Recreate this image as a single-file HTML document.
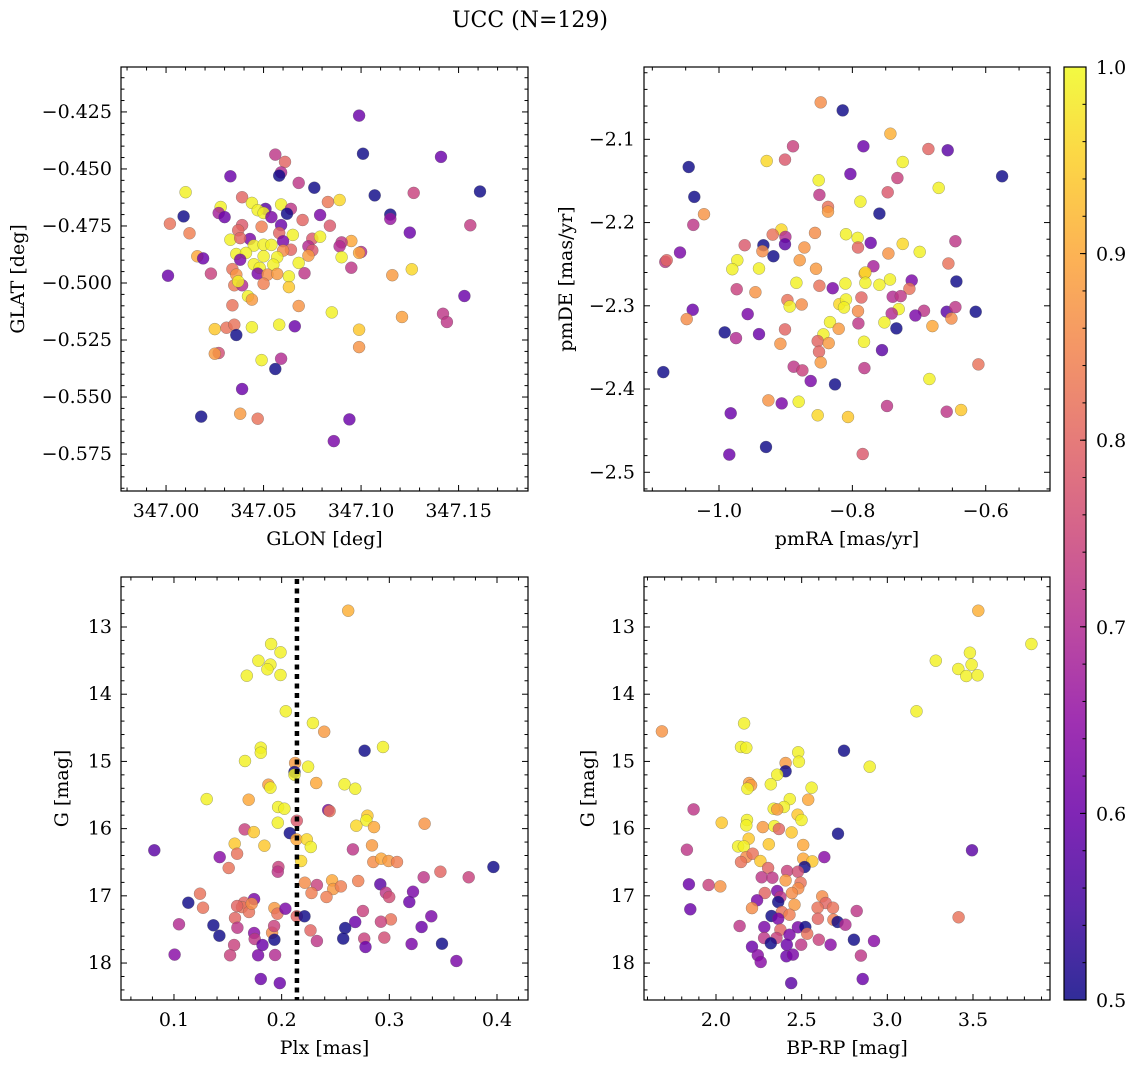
<!DOCTYPE html>
<html><head><meta charset="utf-8"><title>UCC (N=129)</title>
<style>
html,body{margin:0;padding:0;background:#fff;}
svg{display:block;font-family:"DejaVu Serif","Liberation Serif",serif;}
</style></head>
<body>
<svg id="fig" width="1136" height="1067" viewBox="0 0 1136 1067" xmlns="http://www.w3.org/2000/svg">
<defs>
<linearGradient id="plasmaGrad" x1="0" y1="1" x2="0" y2="0">
<stop offset="0" stop-color="#0d0887"/><stop offset="0.1" stop-color="#41049d"/><stop offset="0.2" stop-color="#6a00a8"/><stop offset="0.3" stop-color="#8f0da4"/><stop offset="0.4" stop-color="#b12a90"/><stop offset="0.5" stop-color="#cc4778"/><stop offset="0.6" stop-color="#e16462"/><stop offset="0.7" stop-color="#f2844b"/><stop offset="0.8" stop-color="#fca636"/><stop offset="0.9" stop-color="#fcce25"/><stop offset="1" stop-color="#f0f921"/>
</linearGradient>
</defs>
<text x="530" y="27" font-size="22" text-anchor="middle">UCC (N=129)</text>
</svg>
<script>
// ---------- Panel 1: GLON / GLAT ----------
const p1_glon=[347.099,347.101,347.141,347.056,347.061,347.033,347.059,347.058,347.068,347.076,347.010,347.107,347.127,347.161,347.039,347.044,347.089,347.083,347.059,347.028,347.051,347.064,347.009,347.027,347.030,347.047,347.050,347.054,347.062,347.079,347.115,347.115,347.002,347.070,347.084,347.156,347.039,347.059,347.049,347.012,347.037,347.058,347.125,347.065,347.033,347.043,347.038,347.075,347.079,347.060,347.095,347.090,347.089,347.045,347.050,347.054,347.073,347.075,347.064,347.060,347.100,347.099,347.016,347.019,347.036,347.041,347.038,347.050,347.057,347.073,347.090,347.068,347.045,347.048,347.055,347.095,347.126,347.001,347.023,347.034,347.036,347.047,347.052,347.057,347.063,347.071,347.116,347.035,347.039,347.037,347.050,347.063,347.153,347.042,347.044,347.034,347.068,347.085,347.121,347.142,347.144,347.025,347.031,347.035,347.044,347.058,347.066,347.099,347.036,347.027,347.025,347.059,347.049,347.056,347.099,347.039,347.018,347.038,347.047,347.094,347.086];
const p1_glat=[-0.4266,-0.4433,-0.4447,-0.4437,-0.4469,-0.4532,-0.4515,-0.4529,-0.4561,-0.4582,-0.4602,-0.4616,-0.4605,-0.4599,-0.4624,-0.4649,-0.4636,-0.4645,-0.4656,-0.4667,-0.4675,-0.4675,-0.4708,-0.4693,-0.4711,-0.4681,-0.4693,-0.4711,-0.4696,-0.4702,-0.4700,-0.4719,-0.4740,-0.4724,-0.4749,-0.4747,-0.4746,-0.4746,-0.4753,-0.4782,-0.4769,-0.4781,-0.4779,-0.4789,-0.4810,-0.4807,-0.4803,-0.4806,-0.4797,-0.4817,-0.4816,-0.4822,-0.4839,-0.4836,-0.4832,-0.4833,-0.4839,-0.4857,-0.4854,-0.4858,-0.4864,-0.4868,-0.4883,-0.4892,-0.4873,-0.4868,-0.4898,-0.4883,-0.4887,-0.4880,-0.4887,-0.4912,-0.4918,-0.4934,-0.4920,-0.4933,-0.4940,-0.4968,-0.4959,-0.4939,-0.4963,-0.4959,-0.4963,-0.4960,-0.4971,-0.4957,-0.4966,-0.5010,-0.5010,-0.4993,-0.5003,-0.5018,-0.5057,-0.5058,-0.5073,-0.5098,-0.5101,-0.5129,-0.5149,-0.5135,-0.5171,-0.5202,-0.5196,-0.5183,-0.5194,-0.5183,-0.5190,-0.5205,-0.5228,-0.5307,-0.5310,-0.5332,-0.5338,-0.5377,-0.5281,-0.5465,-0.5586,-0.5573,-0.5595,-0.5598,-0.5693];
const p1_prob=[0.6,0.5,0.6,0.72,0.8,0.6,0.7,0.5,0.72,0.5,0.99,0.5,0.74,0.5,0.8,0.99,0.96,0.83,0.99,0.99,0.58,0.72,0.5,0.68,0.6,0.99,0.99,0.62,0.5,0.62,0.5,0.66,0.82,0.8,0.78,0.73,0.78,0.6,0.84,0.84,0.8,0.8,0.6,0.99,0.99,0.62,0.8,0.78,0.99,0.62,0.9,0.72,0.7,0.99,0.99,0.99,0.7,0.78,0.8,0.86,0.7,0.9,0.9,0.6,0.99,0.99,0.62,0.99,0.99,0.88,0.99,0.99,0.99,0.99,0.99,0.72,0.96,0.6,0.74,0.82,0.87,0.62,0.86,0.88,0.99,0.72,0.88,0.83,0.7,0.99,0.84,0.94,0.6,0.99,0.88,0.82,0.87,0.99,0.89,0.72,0.72,0.94,0.82,0.82,0.99,0.99,0.6,0.94,0.5,0.76,0.88,0.7,0.99,0.5,0.87,0.6,0.5,0.88,0.82,0.6,0.62];
// ---------- Panel 2: pmRA / pmDE ----------
const p2_pmra=[-0.8475,-0.8145,-0.743,-0.889,-0.7835,-0.686,-0.657,-1.0455,-0.9285,-0.901,-0.7245,-0.5755,-0.803,-0.7325,-0.8505,-0.6705,-0.747,-1.037,-0.8495,-0.788,-0.8365,-0.8365,-0.7595,-1.0225,-1.0385,-0.9065,-0.9195,-0.9005,-0.856,-0.8095,-0.792,-0.7725,-0.7245,-0.6455,-0.9615,-0.9335,-0.935,-0.901,-0.872,-0.7915,-0.746,-0.699,-1.0585,-1.0805,-1.0785,-0.9185,-0.9725,-0.879,-0.656,-0.98,-0.94,-0.8545,-0.7685,-0.7815,-0.7805,-0.644,-0.884,-0.8495,-0.8105,-0.7805,-0.8295,-0.7595,-0.7435,-0.711,-0.9735,-0.9455,-0.7145,-0.7395,-0.7275,-0.7865,-0.8975,-0.894,-0.876,-0.8195,-0.8095,-0.8125,-1.0395,-0.7915,-0.7305,-0.741,-0.6925,-0.6585,-0.6455,-0.615,-0.6515,-0.7055,-1.0485,-0.957,-0.791,-0.8335,-0.752,-0.68,-0.9915,-0.9745,-0.94,-0.901,-0.8435,-0.8205,-0.734,-0.908,-0.852,-0.8355,-0.7825,-0.85,-0.7555,-0.8475,-0.888,-0.875,-0.782,-0.611,-1.0835,-0.8625,-0.826,-0.6845,-0.926,-0.906,-0.8805,-0.9825,-0.852,-0.8065,-0.748,-0.6585,-0.637,-0.9295,-0.9845,-0.7845];
const p2_pmde=[-2.0556,-2.0652,-2.0932,-2.1084,-2.1084,-2.1116,-2.1132,-2.1332,-2.126,-2.1244,-2.1272,-2.1444,-2.1416,-2.1464,-2.1492,-2.1584,-2.1636,-2.1692,-2.1668,-2.1748,-2.1812,-2.1868,-2.1892,-2.19,-2.2028,-2.2084,-2.2144,-2.2172,-2.2124,-2.214,-2.2184,-2.2244,-2.2256,-2.2224,-2.2272,-2.2272,-2.2344,-2.226,-2.23,-2.23,-2.2372,-2.2352,-2.236,-2.2472,-2.2452,-2.2404,-2.2452,-2.2452,-2.2492,-2.256,-2.2552,-2.2556,-2.2524,-2.2612,-2.26,-2.2708,-2.2724,-2.276,-2.2732,-2.2724,-2.2788,-2.2748,-2.2684,-2.2696,-2.28,-2.2836,-2.2796,-2.2892,-2.2884,-2.29,-2.2932,-2.3008,-2.2984,-2.298,-2.2924,-2.302,-2.3048,-2.3064,-2.304,-2.3092,-2.306,-2.3072,-2.3016,-2.3072,-2.3152,-2.3116,-2.316,-2.31,-2.3212,-2.3196,-2.32,-2.3244,-2.332,-2.3388,-2.334,-2.3284,-2.3344,-2.3276,-2.3272,-2.3456,-2.3424,-2.3448,-2.3432,-2.3552,-2.3532,-2.368,-2.3732,-2.3776,-2.3748,-2.3704,-2.3796,-2.3904,-2.3944,-2.388,-2.4136,-2.4172,-2.4152,-2.4292,-2.4316,-2.4336,-2.4204,-2.4272,-2.4252,-2.4696,-2.4788,-2.478];
const p2_prob=[0.86,0.5,0.91,0.74,0.6,0.8,0.58,0.5,0.96,0.78,0.99,0.5,0.6,0.74,0.99,0.99,0.78,0.5,0.72,0.99,0.82,0.88,0.5,0.87,0.72,0.96,0.82,0.7,0.86,0.99,0.99,0.6,0.96,0.72,0.78,0.5,0.86,0.58,0.87,0.8,0.87,0.99,0.62,0.72,0.8,0.5,0.99,0.88,0.82,0.99,0.99,0.88,0.68,0.88,0.96,0.5,0.99,0.82,0.99,0.99,0.62,0.99,0.99,0.62,0.74,0.87,0.82,0.7,0.72,0.8,0.82,0.99,0.86,0.96,0.99,0.99,0.6,0.86,0.99,0.7,0.72,0.58,0.72,0.5,0.86,0.62,0.86,0.62,0.72,0.99,0.99,0.9,0.5,0.7,0.6,0.8,0.99,0.88,0.5,0.87,0.8,0.88,0.99,0.8,0.58,0.88,0.72,0.74,0.72,0.82,0.5,0.62,0.5,0.99,0.87,0.62,0.99,0.6,0.96,0.94,0.72,0.72,0.94,0.5,0.6,0.78];
// ---------- Panel 3: Plx / G ----------
const p3_plx=[0.2618,0.1902,0.1989,0.1784,0.1896,0.1868,0.1676,0.1989,0.2039,0.2290,0.2395,0.2770,0.2941,0.1806,0.1806,0.1660,0.2125,0.2119,0.2119,0.2246,0.1877,0.1896,0.2321,0.2584,0.2683,0.1304,0.1694,0.1967,0.2026,0.2432,0.2445,0.2796,0.2786,0.2693,0.2141,0.1964,0.2858,0.3328,0.1657,0.1741,0.2076,0.2138,0.2234,0.2271,0.1564,0.1840,0.0817,0.1425,0.1586,0.2662,0.2839,0.2181,0.2851,0.2925,0.2993,0.3071,0.1508,0.1970,0.1964,0.3967,0.3319,0.3474,0.3737,0.2215,0.2327,0.2277,0.2469,0.2479,0.2550,0.2417,0.2711,0.2916,0.2968,0.2999,0.3220,0.3186,0.1242,0.1133,0.1270,0.1651,0.1744,0.1632,0.1697,0.1722,0.1933,0.1961,0.2035,0.2141,0.2212,0.2755,0.3015,0.2922,0.3390,0.2683,0.2590,0.1047,0.1366,0.1422,0.1567,0.1589,0.1744,0.1750,0.1911,0.1930,0.1933,0.2268,0.2327,0.2572,0.2767,0.2779,0.2953,0.3207,0.3300,0.3489,0.3623,0.1558,0.1521,0.1822,0.1781,0.1939,0.1006,0.1806,0.1983,0.1586];
const p3_g=[12.757,13.253,13.377,13.501,13.560,13.630,13.724,13.714,14.255,14.429,14.558,14.840,14.786,14.796,14.870,14.994,15.024,15.158,15.197,15.078,15.346,15.391,15.321,15.341,15.406,15.560,15.570,15.679,15.704,15.724,15.739,15.808,15.877,15.957,15.882,15.912,15.977,15.927,16.011,16.051,16.066,16.160,16.160,16.274,16.224,16.254,16.323,16.423,16.373,16.309,16.249,16.482,16.497,16.448,16.482,16.497,16.586,16.571,16.641,16.571,16.725,16.641,16.725,16.804,16.839,16.958,16.770,16.899,16.859,17.018,16.780,16.829,16.953,17.018,16.938,17.092,16.968,17.102,17.177,17.102,17.048,17.167,17.241,17.117,17.182,17.266,17.191,17.305,17.305,17.226,17.350,17.385,17.305,17.390,17.479,17.424,17.439,17.593,17.330,17.474,17.553,17.643,17.548,17.449,17.653,17.514,17.672,17.637,17.637,17.762,17.622,17.717,17.464,17.712,17.970,17.732,17.885,17.732,17.885,17.880,17.875,18.238,18.298,17.152];
const p3_prob=[0.91,0.99,0.99,0.99,0.99,0.99,0.99,0.99,0.99,0.99,0.88,0.5,0.99,0.99,0.99,0.99,0.88,0.5,0.99,0.99,0.88,0.99,0.9,0.99,0.99,0.99,0.9,0.99,0.99,0.62,0.82,0.94,0.99,0.96,0.78,0.99,0.9,0.87,0.74,0.94,0.5,0.9,0.96,0.99,0.94,0.94,0.58,0.64,0.82,0.72,0.88,0.96,0.86,0.9,0.88,0.84,0.82,0.74,0.72,0.5,0.72,0.8,0.74,0.86,0.74,0.84,0.9,0.88,0.84,0.84,0.84,0.58,0.72,0.76,0.62,0.6,0.82,0.5,0.82,0.8,0.62,0.82,0.82,0.86,0.88,0.82,0.62,0.8,0.5,0.74,0.82,0.74,0.62,0.6,0.5,0.7,0.5,0.5,0.8,0.72,0.64,0.72,0.86,0.74,0.5,0.8,0.72,0.5,0.74,0.6,0.76,0.62,0.6,0.5,0.62,0.74,0.74,0.6,0.62,0.7,0.64,0.6,0.6,0.8];
const plx_ref=[0.2142];
// ---------- Panel 4: BP-RP / G ----------
const p4_bprp=[3.531,3.841,3.283,3.482,3.492,3.414,3.461,3.527,3.170,2.164,1.684,2.146,2.177,2.747,2.480,2.484,2.897,2.406,2.406,2.357,2.193,2.205,2.183,2.320,2.558,2.538,2.431,2.396,2.337,1.869,2.357,2.476,2.499,2.181,2.033,2.177,2.273,2.341,2.367,2.441,2.712,2.191,2.308,2.509,2.129,2.162,1.830,3.494,2.177,2.214,2.146,2.259,2.509,2.562,2.632,2.517,2.304,2.415,2.478,2.267,2.329,2.406,2.494,2.480,1.842,1.957,2.025,2.285,2.357,2.443,2.620,2.240,2.376,2.363,2.458,2.640,2.210,1.850,2.384,2.429,2.593,2.683,2.821,3.416,2.324,2.363,2.595,2.685,2.710,2.755,2.138,2.282,2.376,2.478,2.521,2.532,2.429,2.281,2.353,2.600,2.669,2.805,2.922,2.320,2.210,2.413,2.497,2.244,2.261,2.411,2.449,2.846,2.856,2.439];
const p4_g=[12.757,13.253,13.501,13.382,13.560,13.625,13.729,13.719,14.255,14.434,14.553,14.786,14.796,14.840,14.865,15.004,15.078,15.024,15.147,15.197,15.321,15.356,15.406,15.341,15.391,15.570,15.560,15.679,15.704,15.714,15.714,15.793,15.872,15.872,15.912,15.952,15.977,15.962,16.006,16.056,16.076,16.150,16.234,16.244,16.264,16.264,16.314,16.323,16.423,16.373,16.497,16.482,16.448,16.487,16.423,16.571,16.586,16.631,16.641,16.725,16.730,16.770,16.804,16.889,16.829,16.839,16.859,16.958,16.928,16.958,17.008,17.067,17.018,17.092,17.132,17.107,17.182,17.201,17.241,17.281,17.177,17.177,17.226,17.320,17.300,17.340,17.340,17.355,17.390,17.429,17.449,17.464,17.504,17.469,17.464,17.563,17.578,17.628,17.628,17.653,17.727,17.653,17.672,17.707,17.757,17.727,17.727,17.885,17.985,17.900,17.875,17.890,18.238,18.298];
const p4_prob=[0.91,0.99,0.99,0.99,0.99,0.99,0.99,0.99,0.99,0.99,0.87,0.99,0.99,0.5,0.99,0.99,0.99,0.88,0.5,0.99,0.88,0.88,0.99,0.99,0.99,0.9,0.99,0.99,0.99,0.72,0.88,0.94,0.99,0.99,0.94,0.99,0.88,0.99,0.8,0.94,0.5,0.94,0.94,0.9,0.99,0.99,0.72,0.58,0.86,0.82,0.82,0.94,0.9,0.94,0.64,0.5,0.8,0.74,0.76,0.72,0.72,0.88,0.82,0.86,0.6,0.74,0.87,0.8,0.62,0.86,0.86,0.62,0.72,0.5,0.88,0.8,0.86,0.6,0.82,0.84,0.82,0.82,0.72,0.82,0.5,0.62,0.8,0.84,0.5,0.7,0.72,0.62,0.8,0.62,0.5,0.82,0.62,0.72,0.74,0.74,0.64,0.5,0.64,0.5,0.6,0.6,0.72,0.64,0.64,0.6,0.62,0.72,0.6,0.58];
// ---------- Colorbar ----------
const cbar_ticks=[0.5,0.6,0.7,0.8,0.9,1.0];
const cbar_labels=["0.5","0.6","0.7","0.8","0.9","1.0"];

const NS="http://www.w3.org/2000/svg";
const svg=document.getElementById('fig');
const plasma=[[13,8,135],[65,4,157],[106,0,168],[143,13,164],[177,42,144],[204,71,120],[225,100,98],[242,132,75],[252,166,54],[252,206,37],[240,249,33]];
function cmap(v){
  let t=(v-0.5)/0.5; t=Math.max(0,Math.min(1,t));
  const f=t*10, i=Math.min(9,Math.floor(f)), r=f-i;
  const a=plasma[i], b=plasma[i+1];
  return 'rgb('+[0,1,2].map(k=>Math.round(a[k]+(b[k]-a[k])*r)).join(',')+')';
}
function mk(tag,attrs,parent){
  const e=document.createElementNS(NS,tag);
  for(const k in attrs) e.setAttribute(k,attrs[k]);
  (parent||svg).appendChild(e); return e;
}
function fmt(v,d){const s=Math.abs(v).toFixed(d); return (v<-1e-9?'\u2212':'')+s;}

function panel(o){
  const g=mk('g',{});
  
  
  const sx=v=>o.L+(v-o.x0)/(o.x1-o.x0)*(o.R-o.L);
  const sy=v=>o.T+(v-o.y0)/(o.y1-o.y0)*(o.B-o.T);
  const pg=mk('g',{},g);
  
  
  for(let i=0;i<o.xs.length;i++){
    const c=mk('circle',{cx:sx(o.xs[i]).toFixed(1),cy:sy(o.ys[i]).toFixed(1),r:6,fill:cmap(o.cs[i]),'fill-opacity':0.82,stroke:'#555','stroke-opacity':0.55,'stroke-width':0.5},pg);
    
    
  }
  if(o.vline){
    for(const v of o.vline){
      const l=mk('line',{x1:sx(v),x2:sx(v),y1:o.T+2,y2:o.B,stroke:'#000','stroke-width':4.5,'stroke-dasharray':'5,4.5'},g);
      
      
    }
  }
  const tg=mk('g',{stroke:'#000','stroke-width':1},g);
  const xlo=Math.min(o.x0,o.x1), xhi=Math.max(o.x0,o.x1);
  for(let v=Math.ceil(xlo/o.xMin-1e-6)*o.xMin; v<=xhi; v+=o.xMin){
    const X=sx(v), maj=o.xMaj.some(m=>Math.abs(m-v)<o.xMin/10), len=maj?6:3.5;
    mk('line',{x1:X,x2:X,y1:o.B,y2:o.B-len},tg); mk('line',{x1:X,x2:X,y1:o.T,y2:o.T+len},tg);
  }
  const ylo=Math.min(o.y0,o.y1), yhi=Math.max(o.y0,o.y1);
  for(let v=Math.ceil(ylo/o.yMin-1e-6)*o.yMin; v<=yhi; v+=o.yMin){
    const Y=sy(v), maj=o.yMaj.some(m=>Math.abs(m-v)<o.yMin/10), len=maj?6:3.5;
    mk('line',{x1:o.L,x2:o.L+len,y1:Y,y2:Y},tg); mk('line',{x1:o.R,x2:o.R-len,y1:Y,y2:Y},tg);
  }
  o.xMaj.forEach(v=>{
    const t=mk('text',{x:sx(v),y:o.B+26,'font-size':19,'text-anchor':'middle'},g); t.textContent=fmt(v,o.xd);
    
    
  });
  o.yMaj.forEach(v=>{
    const t=mk('text',{x:o.L-9,y:sy(v)+6,'font-size':19,'text-anchor':'end'},g); t.textContent=fmt(v,o.yd);
    
    
  });
  mk('rect',{x:o.L,y:o.T,width:o.R-o.L,height:o.B-o.T,fill:'none',stroke:'#000','stroke-width':1.2},g);
  const xl=mk('text',{x:(o.L+o.R)/2,y:o.B+54,'font-size':19,'text-anchor':'middle'},g); xl.textContent=o.xlab;
  
  
  const yx=o.ylx, yy=(o.T+o.B)/2;
  const yl=mk('text',{x:yx,y:yy,'font-size':19,'text-anchor':'middle',transform:'rotate(-90 '+yx+' '+yy+')'},g); yl.textContent=o.ylab;
  
  
}

panel({name:'glon-glat-panel',L:121,R:528,T:67,B:491,x0:346.9769,x1:347.1856,y0:-0.4053,y1:-0.5912,
  xs:p1_glon,ys:p1_glat,cs:p1_prob,xMaj:[347.00,347.05,347.10,347.15],xMin:0.01,yMaj:[-0.425,-0.45,-0.475,-0.5,-0.525,-0.55,-0.575],yMin:0.005,
  xd:2,yd:3,xlab:'GLON [deg]',ylab:'GLAT [deg]',ylx:24});
panel({name:'pm-panel',L:644,R:1050,T:67,B:491,x0:-1.1125,x1:-0.5036,y0:-2.0131,y1:-2.5225,
  xs:p2_pmra,ys:p2_pmde,cs:p2_prob,xMaj:[-1.0,-0.8,-0.6],xMin:0.05,yMaj:[-2.1,-2.2,-2.3,-2.4,-2.5],yMin:0.02,
  xd:1,yd:1,xlab:'pmRA [mas/yr]',ylab:'pmDE [mas/yr]',ylx:572});
panel({name:'plx-g-panel',L:121,R:528,T:577,B:1000,x0:0.0508,x1:0.4288,y0:12.256,y1:18.55,
  xs:p3_plx,ys:p3_g,cs:p3_prob,xMaj:[0.1,0.2,0.3,0.4],xMin:0.02,yMaj:[13,14,15,16,17,18],yMin:0.2,
  xd:1,yd:0,xlab:'Plx [mas]',ylab:'G [mag]',ylx:68,vline:plx_ref});
panel({name:'cmd-panel',L:644,R:1050,T:577,B:1000,x0:1.5797,x1:3.9495,y0:12.256,y1:18.55,
  xs:p4_bprp,ys:p4_g,cs:p4_prob,xMaj:[2.0,2.5,3.0,3.5],xMin:0.1,yMaj:[13,14,15,16,17,18],yMin:0.2,
  xd:1,yd:0,xlab:'BP-RP [mag]',ylab:'G [mag]',ylx:594});

(function(){
  const L=1064,R=1086,T=67,B=1000;
  const g=mk('g',{});
  
  
  const cy=v=>B-(v-0.5)/0.5*(B-T);
  mk('rect',{x:L,y:T,width:R-L,height:B-T,fill:'url(#plasmaGrad)','fill-opacity':0.85},g);
  for(let v=0.5; v<=1.0001; v+=0.02){ const Y=cy(v); mk('line',{x1:R,x2:R-3.5,y1:Y,y2:Y,stroke:'#000','stroke-width':1},g); }
  cbar_ticks.forEach((v,i)=>{
    const Y=cy(v);
    mk('line',{x1:R,x2:R-6,y1:Y,y2:Y,stroke:'#000','stroke-width':1},g);
    const t=mk('text',{x:R+10,y:Y+7,'font-size':19},g); t.textContent=cbar_labels[i];
    
    
  });
  mk('rect',{x:L,y:T,width:R-L,height:B-T,fill:'none',stroke:'#000','stroke-width':1.2},g);
})();
</script>
</body></html>
